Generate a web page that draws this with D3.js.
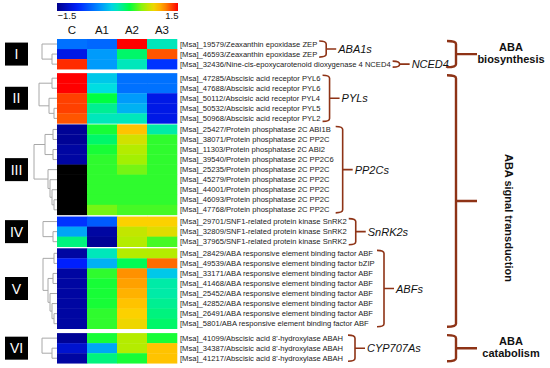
<!DOCTYPE html>
<html>
<head>
<meta charset="utf-8">
<script src="https://cdn.jsdelivr.net/npm/d3@7"></script>
<style>
  body { margin:0; background:#fff; }
  svg { display:block; font-family:"Liberation Sans", Arial, sans-serif; }
</style>
</head>
<body>
<div id="chart"></div>
<script>
// ---- data ----
var samples = ["C", "A1", "A2", "A3"];
var groupNames = ["I", "II", "III", "IV", "V", "VI"];
var groupSizes = [3, 5, 9, 3, 8, 3];

var genes = [
  "[Msa]_19579/Zeaxanthin epoxidase ZEP",
  "[Msa]_46593/Zeaxanthin epoxidase ZEP",
  "[Msa]_32436/Nine-cis-epoxycarotenoid dioxygenase 4 NCED4",
  "[Msa]_47285/Abscisic acid receptor PYL6",
  "[Msa]_47688/Abscisic acid receptor PYL6",
  "[Msa]_50112/Abscisic acid receptor PYL4",
  "[Msa]_50532/Abscisic acid receptor PYL5",
  "[Msa]_50968/Abscisic acid receptor PYL2",
  "[Msa]_25427/Protein phosphatase 2C ABI1B",
  "[Msa]_38071/Protein phosphatase 2C PP2C",
  "[Msa]_11303/Protein phosphatase 2C ABI2",
  "[Msa]_39540/Protein phosphatase 2C PP2C6",
  "[Msa]_25235/Protein phosphatase 2C PP2C",
  "[Msa]_45279/Protein phosphatase 2C PP2C",
  "[Msa]_44001/Protein phosphatase 2C PP2C",
  "[Msa]_46093/Protein phosphatase 2C PP2C",
  "[Msa]_47768/Protein phosphatase 2C PP2C",
  "[Msa]_29701/SNF1-related protein kinase SnRK2",
  "[Msa]_32809/SNF1-related protein kinase SnRK2",
  "[Msa]_37965/SNF1-related protein kinase SnRK2",
  "[Msa]_28429/ABA responsive element binding factor ABF",
  "[Msa]_49539/ABA responsive element binding factor bZIP",
  "[Msa]_33171/ABA responsive element binding factor ABF",
  "[Msa]_41468/ABA responsive element binding factor ABF",
  "[Msa]_25452/ABA responsive element binding factor ABF",
  "[Msa]_42852/ABA responsive element binding factor ABF",
  "[Msa]_26491/ABA responsive element binding factor ABF",
  "[Msa]_5801/ABA responsive element binding factor ABF",
  "[Msa]_41099/Abscisic acid 8'-hydroxylase ABAH",
  "[Msa]_34387/Abscisic acid 8'-hydroxylase ABAH",
  "[Msa]_41217/Abscisic acid 8'-hydroxylase ABAH"
];

// null = missing value (drawn black)
var valC  = [-0.6, -1.1, 1.4,   1.5, 1.5, 1.35, 1.35, 1.3,
             -1.45, -1.45, -1.4, -1.4, null, null, null, null, null,
             -0.9, -0.35, 0.15,
             -1.4, -1.0, -1.4, -1.4, -1.4, -1.4, -1.4, -1.4,
             -1.45, -1.2, -1.4];
var valA1 = [-0.65, -0.4, -0.4,  -0.2, -0.1, 0.3, 0.1, 0.0,
             0.35, 0.2, 0.35, 0.4, 0.4, 0.4, 0.4, 0.4, 0.55,
             -0.7, -1.4, -1.45,
             0.0, -0.3, 0.4, 0.35, 0.35, 0.35, 0.4, 0.4,
             0.35, -0.35, 0.15];
var valA2 = [1.5, 0.2, 0.0,  -0.6, -0.6, -0.4, -0.3, 0.0,
             1.0, 0.8, 0.7, 0.65, 0.55, 0.4, 0.4, 0.4, 0.45,
             0.95, 0.75, 0.7,
             0.7, 0.25, 1.15, 1.1, 1.05, 1.0, 0.95, 0.9,
             0.7, 0.7, 0.35];
var valA3 = [0.0, 1.3, -0.9,  -0.6, -0.6, -1.1, -1.1, -1.1,
             0.05, 0.4, 0.4, 0.4, 0.4, 0.4, 0.4, 0.4, 0.45,
             0.95, 0.85, 0.45,
             0.7, 1.25, -0.2, 0.05, 0.05, 0.1, 0.15, 0.2,
             0.35, 1.0, 1.0];

// dendrograms per group: [height, left, right], leaves = row index inside group
var trees = [
  [6, 0, [2, 1, 2]],
  [7.2, [2, 0, 1], [3.2, 2, [1.2, 3, 4]]],
  [9.2, [4.8, [1.6, 0, 1], [1.6, 2, 3]], [3.6, 4, [2.8, 5, [2, 6, [1.2, 7, 8]]]]],
  [5.6, 0, [1.6, 1, 2]],
  [5.6, [1.2, 0, 1], [3.6, [1.6, 2, 3], [2.8, 4, [2, 5, [1.2, 6, 7]]]]],
  [6, 0, [2, 1, 2]]
];

var familyNames = ["ABA1s", "NCED4", "PYLs", "PP2Cs", "SnRK2s", "ABFs", "CYP707As"];
var familyRows  = [[0, 1], [2, 2], [3, 7], [8, 16], [17, 19], [20, 27], [28, 30]];

var pathwayNames = [["ABA", "biosynthesis"], ["ABA signal transduction"], ["ABA", "catabolism"]];
var pathwayRows  = [[0, 2], [3, 27], [28, 30]];

var colorMin = -1.5, colorMax = 1.5;

// ---- layout ----
var W = 550, H = 368;
var heatLeft = 57, heatRight = 177, heatTop = 39, rowH = 10.05;
var groupGaps = [0, 4, 1, 1.7, 1.6, 4.4];
// minimum bracket start x for each family
var famX = [317, 383, 318, 334, 347, 377, 348];
var brown = "#8e3316";

var svg = d3.select("#chart").append("svg")
    .attr("width", W).attr("height", H);

// row positions
var rowTop = [], groupStart = [];
var yy = heatTop, k = 0;
groupSizes.forEach(function(n, gi) {
  yy += groupGaps[gi];
  groupStart.push(k);
  for (var i = 0; i < n; i++) {
    rowTop.push(yy);
    yy += rowH;
    k++;
  }
});
function rowMid(i) { return rowTop[i] + rowH / 2; }

var x = d3.scaleBand().domain(samples).range([heatLeft, heatRight]);

var color = d3.scaleLinear()
    .domain([0, 0.17, 0.35, 0.47, 0.6, 0.72, 0.82, 0.9, 1].map(function(t) {
      return colorMin + t * (colorMax - colorMin);
    }))
    .range(["#00008b", "#0020ff", "#0090ff", "#00e0e0", "#00ff40", "#a8f000", "#ffd000", "#ff8000", "#ff0000"])
    .clamp(true);

// colour bar
var defs = svg.append("defs");
var grad = defs.append("linearGradient").attr("id", "cbar");
d3.range(0, 1.001, 0.05).forEach(function(t) {
  grad.append("stop").attr("offset", t)
    .attr("stop-color", color(colorMin + t * (colorMax - colorMin)));
});
svg.append("rect")
    .attr("x", heatLeft).attr("y", 3)
    .attr("width", heatRight - heatLeft + 1).attr("height", 8)
    .attr("fill", "url(#cbar)");

var cscale = d3.scaleLinear().domain([colorMin, colorMax]).range([heatLeft, heatRight + 1]);
var cAxis = svg.append("g")
    .attr("transform", "translate(0,11)")
    .call(d3.axisBottom(cscale).tickValues([colorMin, colorMax]).tickSize(0).tickFormat(d3.format(".1f")));
cAxis.select(".domain").remove();
cAxis.selectAll("text")
    .attr("font-size", "9.5px").attr("font-family", "Liberation Sans, Arial, sans-serif")
    .attr("fill", "#111").attr("dy", "0.75em").attr("y", 1)
    .attr("text-anchor", function(d) { return d < 0 ? "start" : "end"; });

// column headers
svg.selectAll(".colhead").data(samples).enter().append("text")
    .attr("class", "colhead")
    .attr("x", function(d) { return x(d) + x.bandwidth() / 2; })
    .attr("y", 34)
    .attr("text-anchor", "middle")
    .attr("font-size", "11.5px")
    .attr("fill", "#111")
    .text(function(d) { return d; });

// heatmap cells
var cols = [valC, valA1, valA2, valA3];
var cells = [];
genes.forEach(function(g, i) {
  samples.forEach(function(s, j) {
    cells.push({ row: i, sample: s, v: cols[j][i] });
  });
});
svg.append("g").selectAll("rect").data(cells).enter().append("rect")
    .attr("x", function(d) { return x(d.sample); })
    .attr("y", function(d) { return rowTop[d.row]; })
    .attr("width", x.bandwidth() + 0.3)
    .attr("height", rowH + 0.3)
    .attr("fill", function(d) { return d.v === null ? "#000" : color(d.v); });

// gene labels
var labelEnds = [];
svg.append("g").selectAll("text").data(genes).enter().append("text")
    .attr("x", heatRight + 3)
    .attr("y", function(d, i) { return rowMid(i) + 2.6; })
    .attr("font-size", "7.6px")
    .attr("fill", "#222")
    .text(function(d) { return d; })
    .each(function(d, i) { labelEnds[i] = heatRight + 3 + this.getComputedTextLength(); });

// dendrograms
var dx = d3.scaleLinear().domain([0, 10]).range([heatLeft, heatLeft - 25]);
var dend = svg.append("g")
    .attr("fill", "none").attr("stroke", "#a8a8a8").attr("stroke-width", 1);
function drawNode(node, gi) {
  if (typeof node === "number") {
    return { x: heatLeft, y: rowMid(groupStart[gi] + node) };
  }
  var a = drawNode(node[1], gi), b = drawNode(node[2], gi);
  var nx = dx(node[0]);
  var p = d3.path();
  p.moveTo(a.x, a.y); p.lineTo(nx, a.y); p.lineTo(nx, b.y); p.lineTo(b.x, b.y);
  dend.append("path").attr("d", p.toString());
  return { x: nx, y: (a.y + b.y) / 2 };
}
trees.forEach(function(t, gi) { drawNode(t, gi); });

// group boxes with roman numerals
groupNames.forEach(function(name, gi) {
  var a = groupStart[gi], b = a + groupSizes[gi] - 1;
  var cy = (rowMid(a) + rowMid(b)) / 2;
  svg.append("rect")
      .attr("x", 5).attr("y", cy - 11.5)
      .attr("width", 23).attr("height", 23)
      .attr("fill", "#000");
  svg.append("text")
      .attr("x", 16.5).attr("y", cy + 5)
      .attr("text-anchor", "middle")
      .attr("font-size", "14px")
      .attr("fill", "#fff")
      .text(name);
});

// brackets
function bracket(x0, x1, x2, y0, y1, sw) {
  var ym = (y0 + y1) / 2, r = 3;
  var p = d3.path();
  p.moveTo(x0, y0);
  p.quadraticCurveTo(x1, y0, x1, y0 + r);
  p.lineTo(x1, y1 - r);
  p.quadraticCurveTo(x1, y1, x0, y1);
  p.moveTo(x1, ym); p.lineTo(x2, ym);
  svg.append("path").attr("d", p.toString())
      .attr("fill", "none").attr("stroke", brown).attr("stroke-width", sw);
  return ym;
}

familyNames.forEach(function(name, fi) {
  var r = familyRows[fi];
  var textEnd = d3.max(d3.range(r[0], r[1] + 1), function(i) { return labelEnds[i]; });
  var x0 = Math.max(famX[fi], textEnd + 2);
  var ym = bracket(x0, x0 + 7, x0 + 17, rowMid(r[0]) - 3, rowMid(r[1]) + 3, 1.6);
  svg.append("text")
      .attr("x", x0 + 19).attr("y", ym + 4)
      .attr("font-size", "11px").attr("font-style", "italic")
      .attr("fill", "#111")
      .text(name);
});

pathwayNames.forEach(function(lines, pi) {
  var r = pathwayRows[pi];
  var ym = bracket(447, 456, 477, rowMid(r[0]) - 3, rowMid(r[1]) + 3, 2.4);
  if (lines.length === 1) {
    svg.append("text")
        .attr("transform", "translate(505," + (ym + 17) + ") rotate(90)")
        .attr("text-anchor", "middle")
        .attr("font-size", "11px").attr("font-weight", "bold")
        .attr("fill", "#111")
        .text(lines[0]);
  } else {
    lines.forEach(function(l, li) {
      svg.append("text")
          .attr("x", 511).attr("y", ym - 3 + li * 12)
          .attr("text-anchor", "middle")
          .attr("font-size", "11px").attr("font-weight", "bold")
          .attr("fill", "#111")
          .text(l);
    });
  }
});
</script>
</body>
</html>
